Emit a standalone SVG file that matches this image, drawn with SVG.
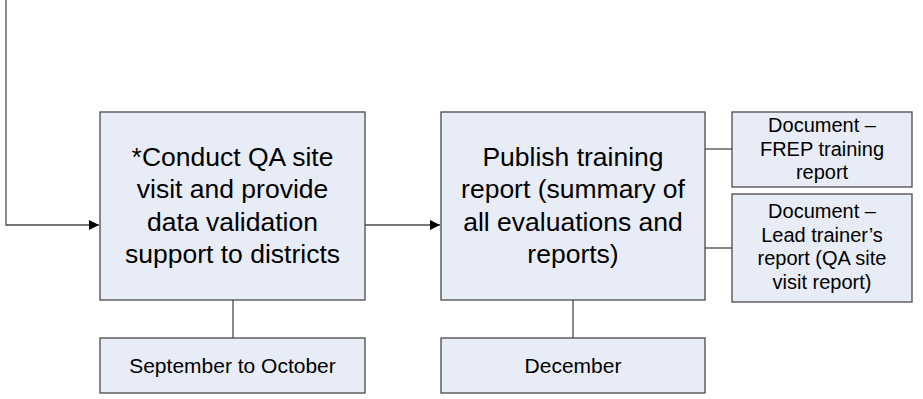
<svg xmlns="http://www.w3.org/2000/svg" width="923" height="399" viewBox="0 0 923 399">
<defs>
<style>
.box{fill:#e7ecf7;stroke:#4a4a4a;stroke-width:1.3}
.ln{fill:none;stroke:#4a4a4a;stroke-width:1.3}
.big{font-family:"Liberation Sans",Arial,sans-serif;font-size:26.5px;fill:#000;text-anchor:middle}
.sm{font-family:"Liberation Sans",Arial,sans-serif;font-size:20px;fill:#000;text-anchor:middle}
.bt{font-family:"Liberation Sans",Arial,sans-serif;font-size:21px;fill:#000;text-anchor:middle}
</style>
<marker id="ah" viewBox="0 0 10 10" refX="10" refY="5" markerWidth="20" markerHeight="10" markerUnits="userSpaceOnUse" orient="auto">
<path d="M0,0 L10,5 L0,10 z" fill="#000"/>
</marker>
</defs>
<g id="connectors">
<path class="ln" d="M6,0 V225 H99" marker-end="url(#ah)"/>
<path class="ln" d="M365,225 H440" marker-end="url(#ah)"/>
<path class="ln" d="M233,300 V338"/>
<path class="ln" d="M573,300 V338"/>
<path class="ln" d="M705,149 H732"/>
<path class="ln" d="M705,248 H732"/>
</g>
<g id="n1">
<rect class="box" x="100" y="112" width="265" height="188"/>
<text class="big" x="232.5" y="165.5">*Conduct QA site</text>
<text class="big" x="232.5" y="198">visit and provide</text>
<text class="big" x="232.5" y="230.5">data validation</text>
<text class="big" x="232.5" y="263">support to districts</text>
</g>
<g id="n2">
<rect class="box" x="441" y="112" width="264" height="188"/>
<text class="big" x="573" y="165.5">Publish training</text>
<text class="big" x="573" y="198">report (summary of</text>
<text class="big" x="573" y="230.5">all evaluations and</text>
<text class="big" x="573" y="263">reports)</text>
</g>
<g id="n3">
<rect class="box" x="732" y="112" width="180" height="75"/>
<text class="sm" x="822" y="132">Document –</text>
<text class="sm" x="822" y="155.5">FREP training</text>
<text class="sm" x="822" y="179">report</text>
</g>
<g id="n4">
<rect class="box" x="732" y="194" width="180" height="108"/>
<text class="sm" x="822" y="218">Document –</text>
<text class="sm" x="822" y="241.5">Lead trainer’s</text>
<text class="sm" x="822" y="265">report (QA site</text>
<text class="sm" x="822" y="288.5">visit report)</text>
</g>
<g id="n5">
<rect class="box" x="100" y="338" width="265" height="55"/>
<text class="bt" x="232.5" y="373">September to October</text>
</g>
<g id="n6">
<rect class="box" x="441" y="338" width="264" height="55"/>
<text class="bt" x="573" y="373">December</text>
</g>
</svg>
